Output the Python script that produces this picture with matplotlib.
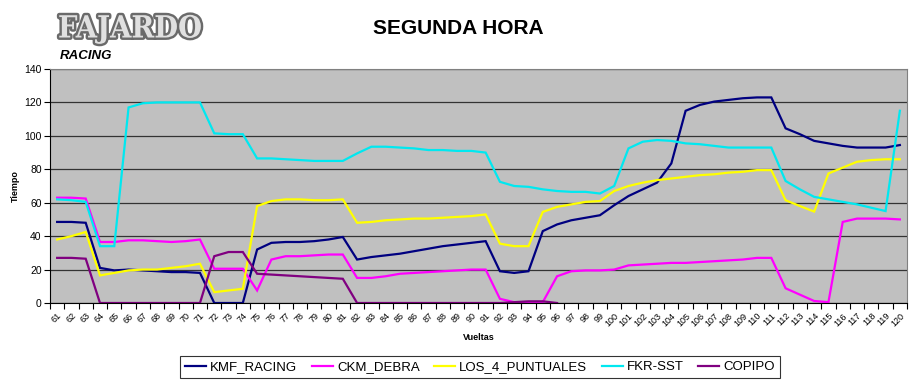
import numpy as np
import matplotlib
matplotlib.use("Agg")
import matplotlib.pyplot as plt
import matplotlib.patheffects as pe

plt.rcParams["font.family"] = ["Liberation Sans", "DejaVu Sans"]

laps = list(range(61, 121))

kmf_racing = [
    48.5, 48.5, 48, 21, 19.5, 20, 19.5, 19, 18.5, 18.5, 18,
    0, 0, 0, 32, 36, 36.5, 36.5, 37, 38, 39.5,
    26, 27.5, 28.5, 29.5, 31, 32.5, 34, 35, 36, 37,
    19, 18, 19, 43, 47, 49.5, 51, 52.5, 58.5, 64,
    68, 72, 83.5, 115, 118.5, 120.5, 121.5, 122.5, 123, 123,
    104.5, 101, 97, 95.5, 94, 93, 93, 93, 94.5,
]
ckm_debra = [
    63, 63, 62.5, 36.5, 36.5, 37.5, 37.5, 37, 36.5, 37, 38,
    20.5, 20.5, 20.5, 7.5, 26, 28, 28, 28.5, 29, 29,
    15, 15, 16, 17.5, 18, 18.5, 19, 19.5, 20, 20,
    2.5, 0.5, 0.5, 0.5, 16, 19, 19.5, 19.5, 20, 22.5,
    23, 23.5, 24, 24, 24.5, 25, 25.5, 26, 27, 27,
    8.8, 5, 1.2, 0.5, 48.5, 50.5, 50.5, 50.5, 50,
]
los_4_puntuales = [
    38, 40, 42.5, 16.5, 18, 19.5, 20, 20, 21, 22, 23.5,
    6.5, 7.5, 8.5, 58, 61, 62, 62, 61.5, 61.5, 62,
    48, 48.5, 49.5, 50, 50.5, 50.5, 51, 51.5, 52, 53,
    35.5, 34, 34, 54.5, 57.5, 59, 60.5, 61, 67, 70,
    72, 73.5, 74.5, 75.5, 76.5, 77, 78, 78.5, 79.5, 79.5,
    61.5, 58, 54.7, 77.5, 81, 84.5, 85.5, 86, 86,
]
fkr_sst = [
    62, 61.5, 60.5, 34, 34, 117, 119.5, 120, 120, 120, 120,
    101.5, 101, 101, 86.5, 86.5, 86, 85.5, 85, 85, 85,
    89.5, 93.5, 93.5, 93, 92.5, 91.5, 91.5, 91, 91, 90,
    72.5, 70, 69.5, 68, 67, 66.5, 66.5, 65.5, 70, 92.5,
    96.5, 97.5, 97, 95.5, 95, 94, 93, 93, 93, 93,
    73, 68, 63.5, 62, 60.5, 59, 57, 55, 115,
]
copipo = [
    27, 27, 26.5, 0, 0, 0, 0, 0, 0, 0, 0,
    28, 30.5, 30.5, 17.5, 17, 16.5, 16, 15.5, 15, 14.5,
    0, 0, 0, 0, 0, 0, 0, 0, 0, 0,
    0, 0.5, 1, 1, 0,
] + [np.nan] * 24

series = [
    ("KMF_RACING", kmf_racing, "#000080"),
    ("CKM_DEBRA", ckm_debra, "#ff00ff"),
    ("LOS_4_PUNTUALES", los_4_puntuales, "#ffff00"),
    ("FKR-SST", fkr_sst, "#00e8f0"),
    ("COPIPO", copipo, "#800080"),
]

fig = plt.figure(figsize=(9.12, 3.83), dpi=100)
ax = fig.add_axes([50 / 912, 1 - 303 / 383, 857 / 912, 234 / 383])
ax.set_facecolor("#c0c0c0")

x = np.arange(len(laps))
for name, vals, color in series:
    ax.plot(x, vals, color=color, lw=1.6, label=name, solid_joinstyle="miter")

ax.set_xlim(-0.5, len(laps) - 0.5)
ax.set_ylim(0, 140)
ax.set_yticks(range(0, 141, 20))
ax.yaxis.grid(True, color="#333333", lw=0.9)
ax.set_axisbelow(True)

ax.set_xticks(x)
ax.set_xticklabels([str(v) for v in laps], rotation=45, ha="right",
                   rotation_mode="anchor", fontsize=6.5)
ax.tick_params(axis="x", length=0, pad=6)
ax.set_xticks(np.arange(-0.5, len(laps), 1), minor=True)
ax.tick_params(axis="x", which="minor", length=4, width=0.8, direction="out")
ax.tick_params(axis="y", length=4, width=0.8, labelsize=7.5, pad=2)

for s in ("top", "right"):
    ax.spines[s].set_color("#808080")
for s in ("left", "bottom"):
    ax.spines[s].set_color("black")

ax.set_ylabel("Tiempo", fontsize=6.5, fontweight="bold", labelpad=3)
ax.set_xlabel("Vueltas", fontsize=6.5, fontweight="bold", labelpad=3)

fig.text(458 / 912, 1 - 29 / 383, "SEGUNDA HORA", ha="center", va="center",
         fontsize=15, fontweight="bold")

# logo
fig.text(58 / 912, 1 - 29 / 383, "FAJARDO", ha="left", va="center",
         fontsize=22, fontweight="heavy", family="DejaVu Serif",
         fontstretch="condensed", color="#e0e0e0",
         path_effects=[pe.withStroke(linewidth=3.5, foreground="#6a6a6a")])
fig.text(60 / 912, 1 - 56 / 383, "RACING", ha="left", va="center",
         fontsize=9.5, fontweight="heavy", fontstyle="italic", color="black")

leg = fig.legend(loc="center", bbox_to_anchor=(480 / 912, 1 - 367 / 383),
                 ncol=5, frameon=True, fancybox=False, fontsize=9.5,
                 handlelength=1.6, handletextpad=0.3, columnspacing=1.1,
                 borderpad=0.35, edgecolor="black")
leg.get_frame().set_linewidth(0.8)

fig.savefig("out.png", dpi=100)
